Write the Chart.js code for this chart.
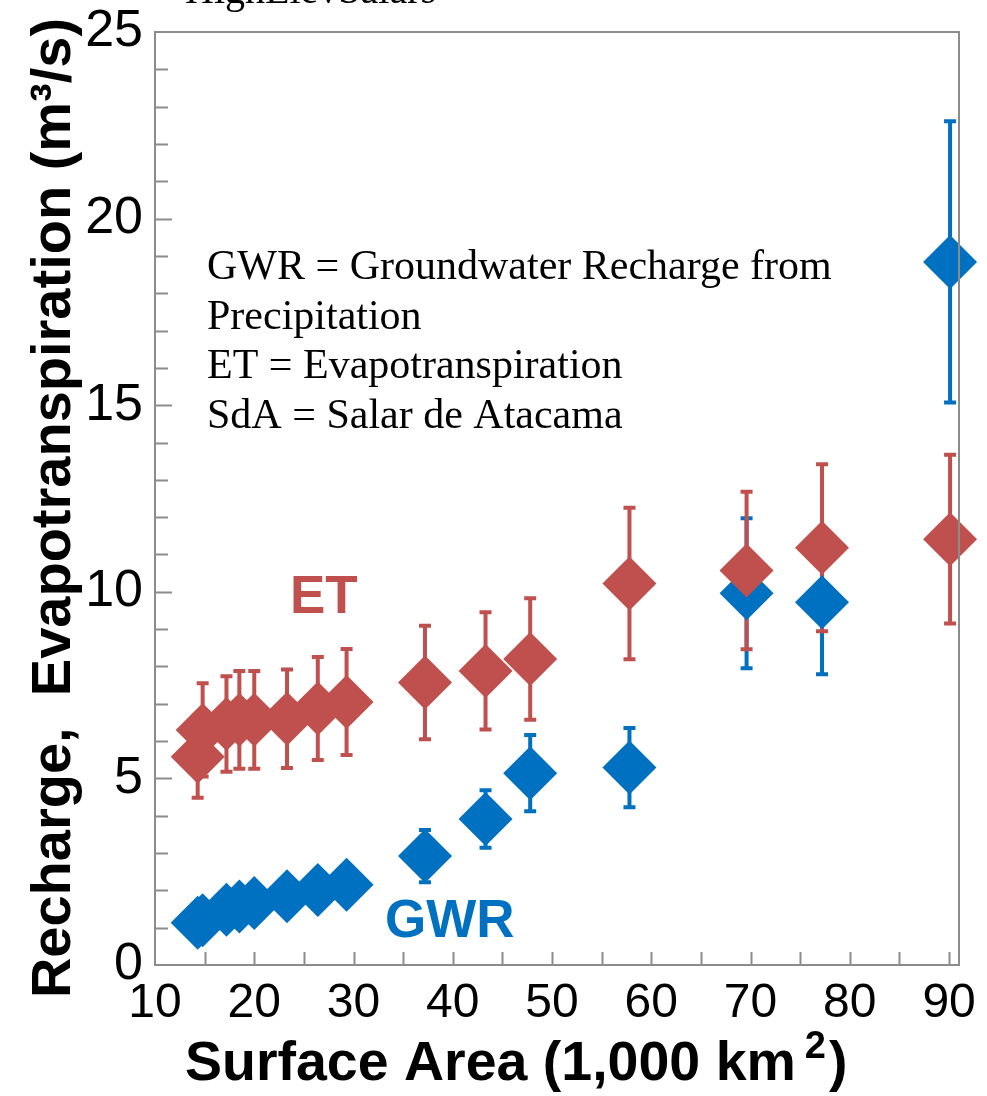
<!DOCTYPE html>
<html>
<head>
<meta charset="utf-8">
<title>Recharge and Evapotranspiration vs Surface Area</title>
<script src="https://cdn.jsdelivr.net/npm/chart.js@4.4.1/dist/chart.umd.min.js"></script>
<style>
  html, body { margin: 0; padding: 0; background: #fff; }
  #chart { display: block; }
</style>
</head>
<body>
<canvas id="chart" width="987" height="1096"></canvas>
<script>
// surface area, 1,000 km2
const areaK = [14.3, 14.8, 17.2, 18.5, 20.0, 23.3, 26.4, 29.3, 37.2, 43.3, 47.8, 57.8, 69.6, 77.2, 90.1];

// evapotranspiration (m3/s) and its error
const etVals = [5.58, 6.30, 6.46, 6.57, 6.57, 6.60, 6.87, 7.05, 7.57, 7.88, 8.20, 10.22, 10.57, 11.18, 11.41];
const etErr = [1.10, 1.25, 1.28, 1.31, 1.31, 1.32, 1.38, 1.42, 1.52, 1.57, 1.63, 2.03, 2.11, 2.24, 2.26];

// groundwater recharge (m3/s) and its error
const gwrVals = [1.13, 1.20, 1.48, 1.57, 1.66, 1.84, 2.01, 2.15, 2.92, 3.91, 5.14, 5.29, 9.96, 9.72, 18.84];
const gwrErr = [0.20, 0.20, 0.25, 0.25, 0.25, 0.30, 0.30, 0.30, 0.70, 0.77, 1.02, 1.06, 2.01, 1.93, 3.77];

const xTicks = [10, 20, 30, 40, 50, 60, 70, 80, 90];
const xMarks = [15, 20, 25, 30, 35, 40, 45, 50, 55, 60, 65, 70, 75, 80, 85, 90];
const yTicks = [0, 5, 10, 15, 20, 25];
const yMarks = [1, 2, 3, 4, 5, 6, 7, 8, 9, 10, 11, 12, 13, 14, 15, 16, 17, 18, 19, 20, 21, 22, 23, 24];

const notes = [
  "GWR = Groundwater Recharge from",
  "Precipitation",
  "ET = Evapotranspiration",
  "SdA = Salar de Atacama"
];

const RED = "#C0504D";
const BLUE = "#0070C0";
const AXIS = "#8c8c8c";
const SANS = '"Liberation Sans", Arial, sans-serif';
const NARROW = '"Liberation Sans Narrow", "Liberation Sans", Arial, sans-serif';
const SERIF = '"Liberation Serif", "Times New Roman", serif';

const pts = (ys) => areaK.map((x, i) => ({ x, y: ys[i] }));

function drawErrBars(ctx, sx, sy, ys, errs, color) {
  ctx.strokeStyle = color;
  ctx.lineWidth = 4;
  ctx.lineCap = "butt";
  areaK.forEach((x, i) => {
    const px = sx.getPixelForValue(x);
    const top = sy.getPixelForValue(ys[i] + errs[i]);
    const bot = sy.getPixelForValue(ys[i] - errs[i]);
    ctx.beginPath();
    ctx.moveTo(px, top);
    ctx.lineTo(px, bot);
    ctx.moveTo(px - 6, top);
    ctx.lineTo(px + 6, top);
    ctx.moveTo(px - 6, bot);
    ctx.lineTo(px + 6, bot);
    ctx.stroke();
  });
}

const decor = {
  id: "decor",
  beforeDatasetsDraw(chart) {
    const { ctx, scales: { x, y } } = chart;
    ctx.save();
    drawErrBars(ctx, x, y, gwrVals, gwrErr, BLUE);
    drawErrBars(ctx, x, y, etVals, etErr, RED);
    ctx.restore();
  },
  afterDatasetsDraw(chart) {
    const { ctx, chartArea: a, scales: { x, y } } = chart;
    ctx.save();
    ctx.strokeStyle = AXIS;
    ctx.lineWidth = 2;
    ctx.strokeRect(a.left, a.top, a.right - a.left, a.bottom - a.top);
    ctx.beginPath();
    yMarks.forEach(v => {
      const py = Math.round(y.getPixelForValue(v)) + 0.5;
      const len = v % 5 === 0 ? 17 : 13;
      ctx.moveTo(a.left, py);
      ctx.lineTo(a.left + len, py);
    });
    xMarks.forEach(v => {
      const px = Math.round(x.getPixelForValue(v)) + 0.5;
      ctx.moveTo(px, a.bottom);
      ctx.lineTo(px, a.bottom - 13);
    });
    ctx.stroke();
    ctx.restore();
  },
  afterDraw(chart) {
    const { ctx } = chart;
    ctx.save();
    ctx.fillStyle = "#000";
    ctx.textBaseline = "alphabetic";

    // title cut off at the top of the picture
    ctx.font = `40px ${SERIF}`;
    ctx.textAlign = "left";
    ctx.fillText("HighElevSalars", 185, 3);

    // abbreviations
    ctx.font = `42px ${SERIF}`;
    notes.forEach((t, i) => ctx.fillText(t, 207, 279 + i * 49.5));

    // series labels
    ctx.font = `bold 53px ${SANS}`;
    ctx.fillStyle = RED;
    ctx.fillText("ET", 290, 613);
    ctx.fillStyle = BLUE;
    ctx.fillText("GWR", 385, 937);

    // y axis title
    ctx.fillStyle = "#000";
    ctx.save();
    ctx.translate(70, 508);
    ctx.rotate(-Math.PI / 2);
    ctx.textAlign = "center";
    ctx.font = `bold 56px ${SANS}`;
    ctx.fillText("Recharge,  Evapotranspiration (m³/s)", 0, 0);
    ctx.restore();

    // x axis title with superscript
    ctx.textAlign = "left";
    ctx.font = `bold 55.5px ${SANS}`;
    const main = "Surface Area (1,000 km";
    let cx = 185;
    ctx.fillText(main, cx, 1080);
    cx += ctx.measureText(main).width + 9;
    ctx.font = `bold 38px ${SANS}`;
    ctx.fillText("2", cx, 1058);
    cx += ctx.measureText("2").width + 3;
    ctx.font = `bold 55.5px ${SANS}`;
    ctx.fillText(")", cx, 1080);
    ctx.restore();
  }
};

new Chart(document.getElementById("chart"), {
  type: "scatter",
  data: {
    datasets: [
      {
        label: "ET",
        data: pts(etVals),
        pointStyle: "rectRot",
        pointRadius: 27,
        pointHoverRadius: 27,
        backgroundColor: RED,
        borderColor: RED,
        borderWidth: 0,
        clip: false
      },
      {
        label: "GWR",
        data: pts(gwrVals),
        pointStyle: "rectRot",
        pointRadius: 27,
        pointHoverRadius: 27,
        backgroundColor: BLUE,
        borderColor: BLUE,
        borderWidth: 0,
        clip: false
      }
    ]
  },
  options: {
    responsive: false,
    animation: false,
    layout: { autoPadding: false, padding: { top: 32, right: 28, left: 0, bottom: 0 } },
    plugins: {
      legend: { display: false },
      tooltip: { enabled: false }
    },
    scales: {
      x: {
        type: "linear",
        min: 10,
        max: 91,
        afterBuildTicks: (s) => { s.ticks = xTicks.map(v => ({ value: v })); },
        afterFit: (s) => {
          s.height = 131;
          s.paddingLeft = 0;
          s.paddingRight = 0;
        },
        grid: { display: false, drawTicks: false },
        border: { display: false },
        ticks: {
          color: "#000",
          padding: 10,
          maxRotation: 0,
          autoSkip: false,
          font: { family: NARROW, size: 48 }
        }
      },
      y: {
        type: "linear",
        min: 0,
        max: 25,
        afterBuildTicks: (s) => { s.ticks = yTicks.map(v => ({ value: v })); },
        afterFit: (s) => {
          s.width = 155;
          s.paddingTop = 0;
          s.paddingBottom = 0;
        },
        grid: { display: false, drawTicks: false },
        border: { display: false },
        ticks: {
          color: "#000",
          padding: 12,
          font: { family: SANS, size: 52 }
        }
      }
    }
  },
  plugins: [decor]
});
</script>
</body>
</html>
